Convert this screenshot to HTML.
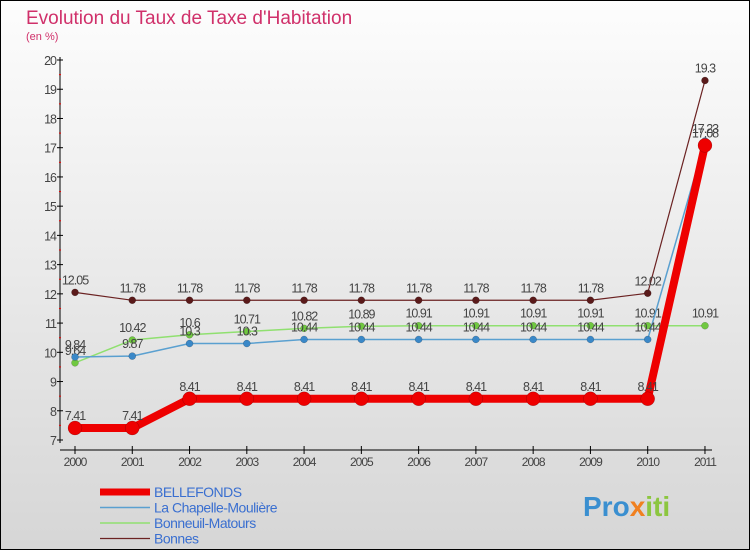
<!DOCTYPE html>
<html><head><meta charset="utf-8"><style>
body{margin:0;width:750px;height:550px;overflow:hidden;font-family:"Liberation Sans",sans-serif}
</style></head><body>
<svg width="750" height="550">
<defs><linearGradient id="bg" x1="0" y1="0" x2="0" y2="1"><stop offset="0" stop-color="#fdfdfd"/><stop offset="1" stop-color="#d6d6d6"/></linearGradient></defs>
<rect x="0.5" y="0.5" width="749" height="549" fill="url(#bg)" stroke="#000"/>
<text x="26" y="24" font-size="19" fill="#d0306a">Evolution du Taux de Taxe d'Habitation</text>
<text x="26" y="40" font-size="11" fill="#d0306a">(en %)</text>
<g id="axes"></g><g id="series"></g><g id="legend"></g>
<text x="583" y="516" font-size="28" font-weight="bold" fill="#3a8fd0">Pro<tspan fill="#f08020">x</tspan><tspan fill="#8cc63f">iti</tspan></text>
</svg>
<script>
const years=[2000,2001,2002,2003,2004,2005,2006,2007,2008,2009,2010,2011];
const yTicks=[7,8,9,10,11,12,13,14,15,16,17,18,19,20];
const bellefonds=[7.41,7.41,8.41,8.41,8.41,8.41,8.41,8.41,8.41,8.41,8.41,17.08];
const chapelle=[9.84,9.87,10.3,10.3,10.44,10.44,10.44,10.44,10.44,10.44,10.44,17.23];
const bonneuil=[9.64,10.42,10.6,10.71,10.82,10.89,10.91,10.91,10.91,10.91,10.91,10.91];
const bonnes=[12.05,11.78,11.78,11.78,11.78,11.78,11.78,11.78,11.78,11.78,12.02,19.3];
const names=["BELLEFONDS","La Chapelle-Moulière","Bonneuil-Matours","Bonnes"];
const NS="http://www.w3.org/2000/svg";
const X=i=>75+i*57.27, Y=v=>440-(v-7)*29.23;
function mk(t,a,p){const e=document.createElementNS(NS,t);for(const k in a)e.setAttribute(k,a[k]);p.appendChild(e);return e;}
const ax=document.getElementById('axes');
let l=mk('line',{x1:60,y1:57,x2:60,y2:443,stroke:'#000'},ax);


l=mk('line',{x1:60,y1:450,x2:712,y2:450,stroke:'#000'},ax);


yTicks.forEach(v=>{mk('line',{x1:57,y1:Y(v),x2:63,y2:Y(v),stroke:'#000'},ax);
 if(v<20)mk('line',{x1:59,y1:Y(v+0.5),x2:61,y2:Y(v+0.5),stroke:'#e00'},ax);
 const t=mk('text',{x:56,y:Y(v)+5,'font-size':12.5,'text-anchor':'end',fill:'#444','letter-spacing':'-1'},ax);t.textContent=v;
 
 });
years.forEach((y,i)=>{mk('line',{x1:X(i),y1:446,x2:X(i),y2:454,stroke:'#000'},ax);
 const t=mk('text',{x:X(i),y:466,'font-size':12,'text-anchor':'middle',fill:'#444','letter-spacing':'-1'},ax);t.textContent=y;
 
 });
const sg=document.getElementById('series');
const defs=[[bonnes,'#6b2222','#5a1a1a',1.2,3.5,'bonnes'],[bonneuil,'#90e070','#70c840',1.5,3.5,'bonneuil'],[chapelle,'#5aa0d0','#3a88c8',1.5,3.5,'chapelle'],[bellefonds,'#ee0000','#ee0000',8,7,'bellefonds']];
defs.forEach(([d,c,fc,w,r,n])=>{
 const p=mk('polyline',{points:d.map((v,i)=>X(i)+','+Y(v)).join(' '),fill:'none',stroke:c,'stroke-width':w,'stroke-linejoin':'round'},sg);
 
 
 d.forEach((v,i)=>{const c2=mk('circle',{cx:X(i),cy:Y(v),r:r,fill:fc,stroke:'rgba(0,0,0,0.3)','stroke-width':0.5},sg);
  
  
  const t=mk('text',{x:X(i),y:Y(v)-8,'font-size':12.5,'text-anchor':'middle',fill:'#444','letter-spacing':'-1'},sg);t.textContent=v;
  
  });
});
const lg=document.getElementById('legend');
const lc=[['#ee0000',7],['#5aa0d0',1.5],['#90e070',1.5],['#6b2222',1.2]];
names.forEach((nm,i)=>{const y=492+i*15.5;
 const ln=mk('line',{x1:100,y1:y,x2:150,y2:y,stroke:lc[i][0],'stroke-width':lc[i][1]},lg);
 
 
 const t=mk('text',{x:154,y:y+5,'font-size':14,fill:'#3a6fd0','letter-spacing':'-0.5'},lg);t.textContent=nm;
 
 });
</script>
</body></html>
